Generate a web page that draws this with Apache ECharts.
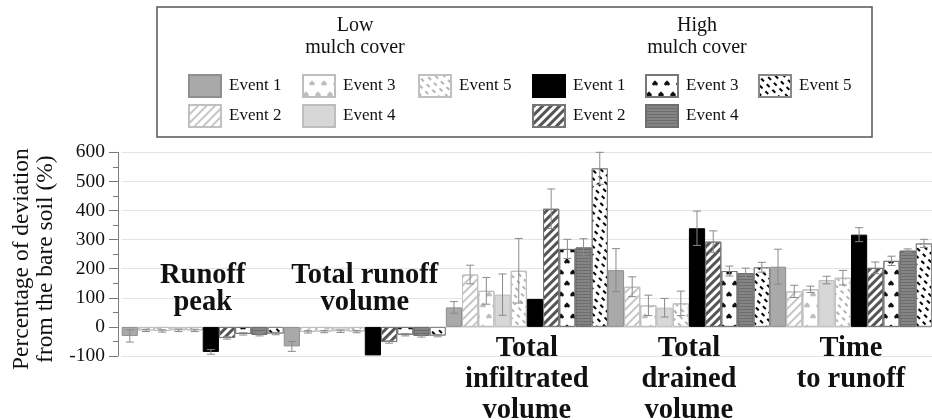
<!DOCTYPE html>
<html><head><meta charset="utf-8">
<script src="https://cdn.jsdelivr.net/npm/echarts@6/dist/echarts.min.js"></script>
<style>html,body{margin:0;padding:0;background:#fff}#c{width:932px;height:420px}</style>
</head><body><div id="c"></div>
<script>
// ---- data ----
const categories = ['Runoff peak', 'Total runoff volume', 'Total infiltrated volume', 'Total drained volume', 'Time to runoff'];
const categoryLabels = ['Runoff\npeak', 'Total runoff\nvolume', 'Total\ninfiltrated\nvolume', 'Total\ndrained\nvolume', 'Time\nto runoff'];
const seriesNames = ['Low Event 1', 'Low Event 2', 'Low Event 3', 'Low Event 4', 'Low Event 5',
                     'High Event 1', 'High Event 2', 'High Event 3', 'High Event 4', 'High Event 5'];
const lowE1  = [-31, -67, 67, 195, 207];
const lowE2  = [-12, -17, 180, 138, 122];
const lowE3  = [-14, -16, 124, 74, 129];
const lowE4  = [-12, -15, 111, 66, 161];
const lowE5  = [-12, -16, 193, 81, 169];
const highE1 = [-86, -98, 96, 339, 317];
const highE2 = [-38, -52, 406, 293, 203];
const highE3 = [-24, -27, 268, 192, 227];
const highE4 = [-27, -31, 273, 185, 262];
const highE5 = [-23, -30, 545, 205, 287];
const errLowE1  = [21, 17, 20, 74, 60];
const errLowE2  = [4, 4, 32, 34, 21];
const errLowE3  = [4, 4, 46, 35, 11];
const errLowE4  = [4, 4, 71, 32, 13];
const errLowE5  = [4, 4, 111, 42, 25];
const errHighE1 = [8, 0, 0, 59, 24];
const errHighE2 = [4, 4, 68, 37, 20];
const errHighE3 = [4, 4, 33, 17, 16];
const errHighE4 = [4, 4, 30, 17, 6];
const errHighE5 = [4, 4, 55, 17, 14];
const yTicks = [-100, 0, 100, 200, 300, 400, 500, 600];

const values = [lowE1, lowE2, lowE3, lowE4, lowE5, highE1, highE2, highE3, highE4, highE5];
const errors = [errLowE1, errLowE2, errLowE3, errLowE4, errLowE5, errHighE1, errHighE2, errHighE3, errHighE4, errHighE5];

// ---- styles ----
const FONT = '"Liberation Serif", "DejaVu Serif", serif';
const heart = 'path://M12 21.35l-1.45-1.32C5.4 15.36 2 12.28 2 8.5 2 5.42 4.42 3 7.5 3c1.74 0 3.41.81 4.5 2.09C13.09 3.81 14.76 3 16.5 3 19.58 3 22 5.42 22 8.5c0 3.78-3.4 6.86-8.55 11.54L12 21.35z';
const styles = [
  {color: '#a9a9a9', borderColor: '#8f8f8f'},
  {color: '#ffffff', borderColor: '#c0c0c0', decal: {symbol: 'rect', symbolSize: 1, dashArrayX: [1, 0], dashArrayY: [2, 4], rotation: -Math.PI / 4, color: '#c6c6c6'}},
  {color: '#ffffff', borderColor: '#bdbdbd', decal: {symbol: heart, symbolSize: 0.95, dashArrayX: [[6, 6], [0, 6, 6, 0]], dashArrayY: [6, 5], rotation: Math.PI, color: '#bdbdbd'}},
  {color: '#d7d7d7', borderColor: '#bdbdbd'},
  {color: '#ffffff', borderColor: '#c0c0c0', decal: {symbol: 'rect', symbolSize: 1, dashArrayX: [[4, 4], [0, 4, 4, 0]], dashArrayY: [1.5, 3.5], rotation: Math.PI / 4, color: '#b5b5b5'}},
  {color: '#000000', borderColor: '#000000'},
  {color: '#ffffff', borderColor: '#777777', decal: {symbol: 'rect', symbolSize: 1, dashArrayX: [1, 0], dashArrayY: [3, 3], rotation: -Math.PI / 4, color: '#555555'}},
  {color: '#ffffff', borderColor: '#777777', decal: {symbol: heart, symbolSize: 0.95, dashArrayX: [[6, 6], [0, 6, 6, 0]], dashArrayY: [6, 5], rotation: Math.PI, color: '#111111'}},
  {color: '#858585', borderColor: '#6f6f6f', decal: {symbol: 'rect', symbolSize: 1, dashArrayX: [1, 0], dashArrayY: [1, 2], color: '#6d6d6d'}},
  {color: '#ffffff', borderColor: '#888888', decal: {symbol: 'rect', symbolSize: 1, dashArrayX: [[4, 4], [0, 4, 4, 0]], dashArrayY: [1.8, 3.2], rotation: Math.PI / 4, color: '#000000'}}
];

const barSeries = seriesNames.map((name, j) => ({
  name: name,
  type: 'bar',
  data: values[j],
  barGap: '0%',
  barCategoryGap: '0%',
  itemStyle: Object.assign({borderWidth: 1}, styles[j]),
  emphasis: {disabled: true},
  animation: false
}));

const errData = [];
values.forEach((arr, j) => arr.forEach((v, i) => { if (errors[j][i] > 0) errData.push([i, v, errors[j][i], j]); }));

const errSeries = {
  type: 'custom',
  data: errData,
  z: 10,
  silent: true,
  animation: false,
  encode: {x: 0, y: 1},
  renderItem: function (params, api) {
    const i = api.value(0), v = api.value(1), e = api.value(2), j = api.value(3);
    const band = api.size([1, 0])[0];
    const c = api.coord([i, v]);
    const x = c[0] + (j - 4.5) * band / 10;
    const yt = api.coord([i, v + e])[1];
    const yb = api.coord([i, v - e])[1];
    const hw = 4;
    const st = {stroke: '#8a8a8a', lineWidth: 1};
    return {type: 'group', children: [
      {type: 'line', shape: {x1: x, y1: yt, x2: x, y2: yb}, style: st},
      {type: 'line', shape: {x1: x - hw, y1: yt, x2: x + hw, y2: yt}, style: st},
      {type: 'line', shape: {x1: x - hw, y1: yb, x2: x + hw, y2: yb}, style: st}
    ]};
  }
};

// legend columns
const legendCols = [
  {left: 188, names: ['Low Event 1', 'Low Event 2']},
  {left: 302, names: ['Low Event 3', 'Low Event 4']},
  {left: 418, names: ['Low Event 5']},
  {left: 532, names: ['High Event 1', 'High Event 2']},
  {left: 645, names: ['High Event 3', 'High Event 4']},
  {left: 758, names: ['High Event 5']}
];
const legends = legendCols.map(c => ({
  orient: 'vertical', left: c.left, top: 74, padding: 0,
  itemWidth: 32, itemHeight: 22, itemGap: 6,
  icon: 'rect', selectedMode: false,
  data: c.names,
  formatter: n => n.replace(/^(Low|High) /, ''),
  textStyle: {fontFamily: FONT, fontSize: 17, color: '#111', padding: [0, 0, 0, 3]}
}));

const option = {
  backgroundColor: '#fff',
  animation: false,
  grid: {left: 121.7, right: -9.2, top: 152.3, bottom: 64, containLabel: false},
  xAxis: {
    type: 'category', data: categories,
    axisLine: {show: false}, axisTick: {show: false}, axisLabel: {show: false}, splitLine: {show: false}
  },
  yAxis: {
    type: 'value', min: -100, max: 600, interval: 100, offset: 3.7,
    axisLine: {show: true, lineStyle: {color: '#7a7a7a', width: 1}},
    axisTick: {show: true, length: 9, lineStyle: {color: '#7a7a7a'}},
    minorTick: {show: true, splitNumber: 2, length: 5, lineStyle: {color: '#7a7a7a'}},
    splitLine: {show: true, lineStyle: {color: '#e4e4e4', width: 1}},
    axisLabel: {fontFamily: FONT, fontSize: 19.5, color: '#111', margin: 13,
      formatter: v => yTicks.indexOf(v) >= 0 ? String(v) : ''},
    name: 'Percentage of deviation\nfrom the bare soil (%)',
    nameLocation: 'middle', nameGap: 60,
    nameTextStyle: {fontFamily: FONT, fontSize: 23.5, lineHeight: 24, color: '#111', padding: [0, 10, 0, 0]}
  },
  legend: legends,
  series: barSeries.concat([errSeries]),
  graphic: [
    {type: 'rect', id: 'box', shape: {x: 157, y: 7, width: 715, height: 130}, style: {fill: null, stroke: '#555', lineWidth: 1.5}, silent: true},
    {type: 'text', id: 'lowT', x: 355, y: 15, style: {text: 'Low\nmulch cover', font: '20px ' + FONT, lineHeight: 22, align: 'center', verticalAlign: 'top', fill: '#111'}},
    {type: 'text', id: 'highT', x: 697, y: 15, style: {text: 'High\nmulch cover', font: '20px ' + FONT, lineHeight: 22, align: 'center', verticalAlign: 'top', fill: '#111'}}
  ]
};

const chart = echarts.init(document.getElementById('c'));
chart.setOption(option);

// category labels positioned through the axes
const aboveBar = [true, true, false, false, false];
const extra = categoryLabels.map((t, i) => {
  const x = chart.convertToPixel({xAxisIndex: 0}, i);
  const y = chart.convertToPixel({yAxisIndex: 0}, aboveBar[i] ? 224 : -22);
  return {type: 'text', id: 'cat' + i, x: x, y: y, z: 50,
    style: {text: t, font: 'bold 28.5px ' + FONT, lineHeight: aboveBar[i] ? 27 : 31, align: 'center', verticalAlign: 'top', fill: '#111'}};
});
chart.setOption({graphic: extra});
</script>
</body></html>
